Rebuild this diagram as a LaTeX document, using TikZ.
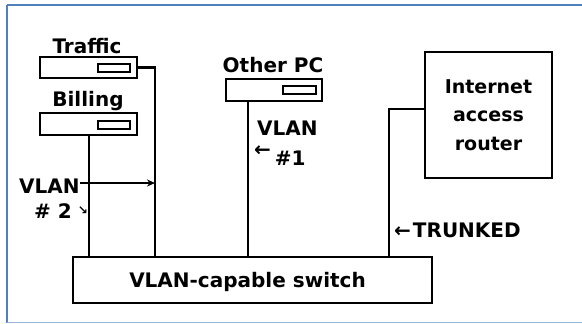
\documentclass[tikz,border=0pt]{standalone}
\usepackage{fontspec}
\setmainfont{DejaVu Sans}
\usetikzlibrary{arrows.meta}
\definecolor{frameblue}{HTML}{4F81BD}
\definecolor{framelight}{HTML}{9BB5DA}
\begin{document}
\begin{tikzpicture}[x=1pt,y=-1pt,
  lbl/.style={font=\fontsize{20}{24}\selectfont\bfseries, inner sep=0pt, anchor=base},
  pcbox/.style={draw, line width=2.3pt, minimum width=97pt, minimum height=21pt, inner sep=0pt},
  slot/.style={draw, line width=2pt, minimum width=32pt, minimum height=8pt, inner sep=0pt},
  bigbox/.style={draw, line width=2.3pt, inner sep=0pt},
  wire/.style={line width=2.1pt}]
\useasboundingbox (0,0) rectangle (582,324);
\fill[white] (0,0) rectangle (582,324);
% frame
\draw[frameblue, line width=2pt] (6.5,5) -- (582,5);
\draw[frameblue, line width=2pt] (6.5,5) -- (6.5,323);
\draw[framelight, line width=1.5pt] (6.5,322.5) -- (582,322.5);
% PCs
\node[pcbox] (traffic) at (88.5,67.5) {};
\node[slot] (trafficslot) at (114,68) {};
\node[lbl] (traffictxt) at (87,53) {Traffic};
\node[pcbox, minimum height=22pt] (billing) at (88.5,124) {};
\node[slot] (billingslot) at (114,124.5) {};
\node[lbl] (billingtxt) at (88,106) {Billing};
\node[pcbox, minimum width=96pt, minimum height=22pt] (other) at (274,90) {};
\node[slot, minimum width=33pt] (otherslot) at (299.5,90) {};
\node[lbl] (othertxt) at (273,72) {Other PC};
% router
\node[bigbox, minimum width=127pt, minimum height=126pt, align=center,
      font=\fontsize{19}{28.5}\selectfont\bfseries] (router) at (488.5,115) {Internet\\access\\router};
% switch
\node[bigbox, minimum width=359pt, minimum height=46pt] (switch) at (252.5,280) {};
\node[lbl] (switchtxt) at (247.5,287) {VLAN-capable switch};
% wires
\coordinate (tb) at (155,257);
\coordinate (bb) at (89,257);
\coordinate (ob) at (248,257);
\coordinate (rb) at (389,257);
\draw[wire] (traffic.east) -| (tb);
\draw[wire] (billing.south -| bb) -- (bb);
\draw[wire] (other.south -| ob) -- (ob);
\draw[wire] (router.west |- 0,109) -| (rb);
% labels
\node[lbl, anchor=base west] (vlan2) at (19,193) {VLAN};
\node[lbl, anchor=base west] (num2) at (34,218) {\# 2\hspace{6pt}{\fontsize{12}{12}\selectfont\raisebox{4pt}{↘}}};
\coordinate (vlanarrow) at (155,183);
\draw[wire, -{Stealth[length=8pt,width=7pt]}] (vlan2.east |- vlanarrow) -- (vlanarrow);
\node[lbl, anchor=base west] (vlan1) at (257,135) {VLAN};
\node[lbl, anchor=base west] (num1) at (254,165) {\raisebox{9pt}{←}\hspace{4pt}\#1};
\node[lbl, anchor=base west] (trunk) at (394,237) {←\hspace{2pt}TRUNKED};
\end{tikzpicture}
\end{document}
